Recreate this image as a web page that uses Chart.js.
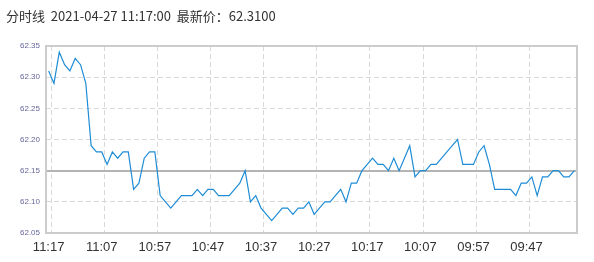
<!DOCTYPE html>
<html>
<head>
<meta charset="utf-8">
<script src="https://cdn.jsdelivr.net/npm/chart.js@4"></script>
<style>
  html, body { margin: 0; padding: 0; background: #fff; }
  #wrap { width: 594px; height: 262px; }
</style>
</head>
<body>
<div id="wrap"><canvas id="minuteChart"></canvas></div>
<script>
const titleText = "分时线  2021-04-27 11:17:00  最新价：62.3100";

const times = [
  "11:17","11:16","11:15","11:14","11:13","11:12","11:11","11:10","11:09","11:08",
  "11:07","11:06","11:05","11:04","11:03","11:02","11:01","11:00","10:59","10:58",
  "10:57","10:56","10:55","10:54","10:53","10:52","10:51","10:50","10:49","10:48",
  "10:47","10:46","10:45","10:44","10:43","10:42","10:41","10:40","10:39","10:38",
  "10:37","10:36","10:35","10:34","10:33","10:32","10:31","10:30","10:29","10:28",
  "10:27","10:26","10:25","10:24","10:23","10:22","10:21","10:20","10:19","10:18",
  "10:17","10:16","10:15","10:14","10:13","10:12","10:11","10:10","10:09","10:08",
  "10:07","10:06","10:05","10:04","10:03","10:02","10:01","10:00","09:59","09:58",
  "09:57","09:56","09:55","09:54","09:53","09:52","09:51","09:50","09:49","09:48",
  "09:47","09:46","09:45","09:44","09:43","09:42","09:41","09:40","09:39","09:38"
];

const prices = [
  62.31, 62.29, 62.34, 62.32, 62.31, 62.33, 62.32, 62.29, 62.19, 62.18,
  62.18, 62.16, 62.18, 62.17, 62.18, 62.18, 62.12, 62.13, 62.17, 62.18,
  62.18, 62.11, 62.10, 62.09, 62.10, 62.11, 62.11, 62.11, 62.12, 62.11,
  62.12, 62.12, 62.11, 62.11, 62.11, 62.12, 62.13, 62.15, 62.10, 62.11,
  62.09, 62.08, 62.07, 62.08, 62.09, 62.09, 62.08, 62.09, 62.09, 62.10,
  62.08, 62.09, 62.10, 62.10, 62.11, 62.12, 62.10, 62.13, 62.13, 62.15,
  62.16, 62.17, 62.16, 62.16, 62.15, 62.17, 62.15, 62.17, 62.19, 62.14,
  62.15, 62.15, 62.16, 62.16, 62.17, 62.18, 62.19, 62.20, 62.16, 62.16,
  62.16, 62.18, 62.19, 62.16, 62.12, 62.12, 62.12, 62.12, 62.11, 62.13,
  62.13, 62.14, 62.11, 62.14, 62.14, 62.15, 62.15, 62.14, 62.14, 62.15
];

const prevClose = 62.15;
const xTickLabels = ["11:17","11:07","10:57","10:47","10:37","10:27","10:17","10:07","09:57","09:47"];
const yTickValues = [62.05, 62.10, 62.15, 62.20, 62.25, 62.30, 62.35];

// frame round the plot + solid line at previous close
const framePlugin = {
  id: "frame",
  beforeDatasetsDraw(chart) {
    const { ctx, chartArea: a, scales: { y } } = chart;
    const yp = Math.round(y.getPixelForValue(prevClose));
    ctx.save();
    ctx.strokeStyle = "#b4b4b4";
    ctx.lineWidth = 2;
    ctx.beginPath();
    ctx.moveTo(a.left, yp);
    ctx.lineTo(a.right, yp);
    ctx.stroke();
    ctx.strokeStyle = "#cccccc";
    ctx.lineWidth = 2;
    ctx.strokeRect(a.left, a.top, a.right - a.left, a.bottom - a.top);
    ctx.restore();
  }
};

new Chart(document.getElementById("minuteChart"), {
  type: "line",
  data: {
    labels: times,
    datasets: [{
      data: prices,
      borderColor: "#1f8dd6",
      borderWidth: 1.2,
      pointRadius: 0,
      tension: 0,
      fill: false
    }]
  },
  options: {
    responsive: true,
    maintainAspectRatio: false,
    animation: false,
    layout: { padding: { left: 6, right: 17, top: 0, bottom: 0 } },
    plugins: {
      legend: { display: false },
      tooltip: { enabled: false },
      title: {
        display: true,
        text: titleText,
        align: "start",
        color: "#333",
        font: { family: "'Noto Sans CJK SC', sans-serif", size: 13, weight: "normal" },
        padding: { top: 8, bottom: 22.4 }
      }
    },
    scales: {
      x: {
        offset: true,
        afterFit: s => { s.height = 29; },
        border: { display: false, dash: [5, 3] },
        grid: {
          offset: true,
          drawTicks: false,
          lineWidth: 1,
          color: c => (c.index > 0 && xTickLabels.includes(times[c.index - 1])) ? "#d9d9d9" : "transparent"
        },
        ticks: {
          autoSkip: false,
          maxRotation: 0,
          padding: 7,
          color: "#333",
          font: { family: "'Liberation Sans', Arial, sans-serif", size: 13 },
          callback: (v, i) => xTickLabels.includes(times[i]) ? times[i] : ""
        }
      },
      y: {
        min: 62.05,
        max: 62.35,
        afterFit: s => { s.width = 40; },
        afterBuildTicks: s => { s.ticks = yTickValues.map(v => ({ value: v })); },
        border: { display: false, dash: [5, 3] },
        grid: {
          drawTicks: false,
          lineWidth: 1,
          color: c => {
            const v = c.tick ? c.tick.value : NaN;
            if (Math.abs(v - prevClose) < 1e-6 || Math.abs(v - 62.05) < 1e-6 || Math.abs(v - 62.35) < 1e-6) return "transparent";
            return "#d9d9d9";
          }
        },
        ticks: {
          padding: 6,
          color: "#66669a",
          font: { family: "'Liberation Sans', Arial, sans-serif", size: 8 },
          callback: v => Number(v).toFixed(2)
        }
      }
    }
  },
  plugins: [framePlugin]
});
</script>
</body>
</html>
